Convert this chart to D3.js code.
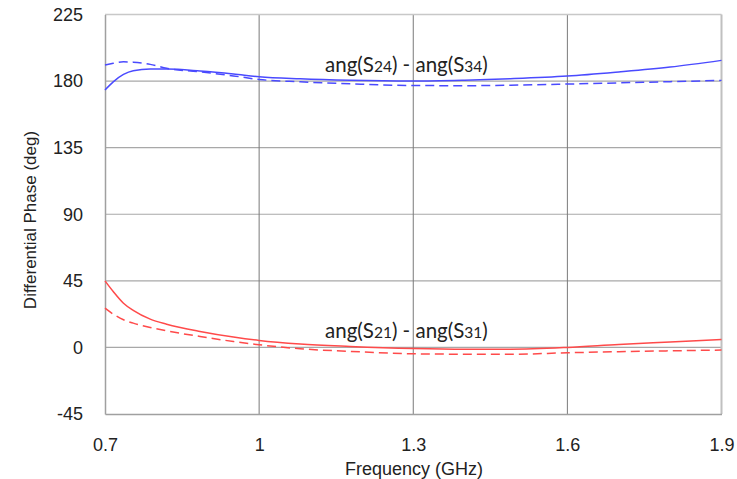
<!DOCTYPE html>
<html>
<head>
<meta charset="utf-8">
<script src="https://cdn.jsdelivr.net/npm/d3@7"></script>
<style>
  body { margin: 0; background: #fff; }
  svg { display: block; }
</style>
</head>
<body>
<svg id="chart" width="737" height="479"></svg>
<script>
// ---- Data ----
const freq = [0.70, 0.716, 0.736, 0.755, 0.788, 0.82, 0.885, 0.95, 1.0, 1.08, 1.177, 1.3, 1.4, 1.489, 1.6, 1.7, 1.8, 1.9];
const s24s34Solid  = [174, 179.5, 184.5, 187, 188.1, 188.1, 186.8, 184.8, 182.9, 181.5, 180.5, 180, 180.6, 181.6, 183.4, 186.2, 189.5, 194];
const s24s34Dashed = [190.8, 192, 193, 192.8, 191.3, 188.6, 186.3, 183.5, 181.1, 179.5, 178.2, 177, 176.9, 177.2, 178, 178.8, 179.6, 180.5];
const s21s31Solid  = [45, 37.8, 29.9, 25, 19.1, 15.7, 10.8, 7, 4.7, 2.3, 0.7, -0.7, -1.2, -1.2, 0, 2.0, 3.7, 5.4];
const s21s31Dashed = [26.5, 22.5, 18.7, 16.4, 13.5, 11.2, 7.4, 4, 1.8, -0.9, -2.7, -4.3, -4.6, -4.7, -3.6, -2.9, -2.3, -1.8];
const xTicks = [0.7, 1, 1.3, 1.6, 1.9];
const yTicks = [-45, 0, 45, 90, 135, 180, 225];
const xTitle = "Frequency (GHz)";
const yTitle = "Differential Phase (deg)";

// ---- Layout ----
const L = 105, R = 721.5, T = 14.5, B = 414;
const FONT = "'Liberation Sans', Arial, sans-serif";
const svg = d3.select("#chart");
const x = d3.scaleLinear().domain([0.7, 1.9]).range([L, R]);
const y = d3.scaleLinear().domain([-45, 225]).range([B, T]);

const BLUE = "#4a4aff", RED = "#ff4a4a";

// horizontal gridlines
svg.append("g").selectAll("line").data(yTicks.filter(v => v > -45 && v < 225)).join("line")
  .attr("x1", L).attr("x2", R).attr("y1", d => y(d)).attr("y2", d => y(d))
  .attr("stroke", "#a8a8a8").attr("stroke-width", 1.2);
// vertical gridlines
svg.append("g").selectAll("line").data(xTicks.filter(v => v > 0.7 && v < 1.9)).join("line")
  .attr("x1", d => x(d)).attr("x2", d => x(d)).attr("y1", T).attr("y2", B)
  .attr("stroke", "#7a7a7a").attr("stroke-width", 1);

// frame
svg.append("line").attr("x1", L).attr("x2", R).attr("y1", T).attr("y2", T).attr("stroke", "#c8c8c8").attr("stroke-width", 1.5);
svg.append("line").attr("x1", R).attr("x2", R).attr("y1", T).attr("y2", B).attr("stroke", "#c0c0c0").attr("stroke-width", 2);

// axes (tick labels)
const xAxis = d3.axisBottom(x).tickValues(xTicks).tickSize(0).tickPadding(24).tickFormat(d3.format("~g"));
const gx = svg.append("g").attr("transform", `translate(0,${B})`).call(xAxis);
gx.select(".domain").attr("stroke", "#a0a0a0").attr("stroke-width", 1.5);
gx.selectAll("text").attr("font-family", FONT).attr("font-size", 18).attr("fill", "#222");

const yAxis = d3.axisLeft(y).tickValues(yTicks).tickSize(0).tickPadding(22).tickFormat(d => String(d));
const gy = svg.append("g").attr("transform", `translate(${L},0)`).call(yAxis);
gy.select(".domain").attr("stroke", "#a0a0a0").attr("stroke-width", 1.5);
gy.selectAll("text").attr("font-family", FONT).attr("font-size", 18).attr("fill", "#222");

// axis titles
svg.append("text").attr("x", 414).attr("y", 475).attr("text-anchor", "middle")
  .attr("font-family", FONT).attr("font-size", 18).attr("fill", "#222").text(xTitle);
svg.append("text").attr("transform", `translate(36,220) rotate(-90)`).attr("text-anchor", "middle")
  .attr("font-family", FONT).attr("font-size", 17).attr("fill", "#222").text(yTitle);

// curves
const line = d3.line().x(d => x(d[0])).y(d => y(d[1])).curve(d3.curveMonotoneX);
const series = [
  { vals: s24s34Solid, color: BLUE, dash: null },
  { vals: s24s34Dashed, color: BLUE, dash: "9,5" },
  { vals: s21s31Solid, color: RED, dash: null },
  { vals: s21s31Dashed, color: RED, dash: "9,5" }
];
svg.append("g").selectAll("path").data(series).join("path")
  .attr("d", s => line(freq.map((f, i) => [f, s.vals[i]])))
  .attr("fill", "none").attr("stroke", s => s.color).attr("stroke-width", 1.5)
  .attr("stroke-dasharray", s => s.dash);

// annotations
function label(xp, yp, a, b) {
  const t = svg.append("text").attr("x", xp).attr("y", yp)
    .attr("font-family", "Lato, 'Open Sans', sans-serif").attr("font-size", 20.5).attr("fill", "#222");
  t.append("tspan").text("ang(S");
  t.append("tspan").attr("font-size", 15.5).text(a);
  t.append("tspan").text(") - ang(S");
  t.append("tspan").attr("font-size", 15.5).text(b);
  t.append("tspan").text(")");
}
label(325, 72, "24", "34");
label(325, 338, "21", "31");
</script>
</body>
</html>
